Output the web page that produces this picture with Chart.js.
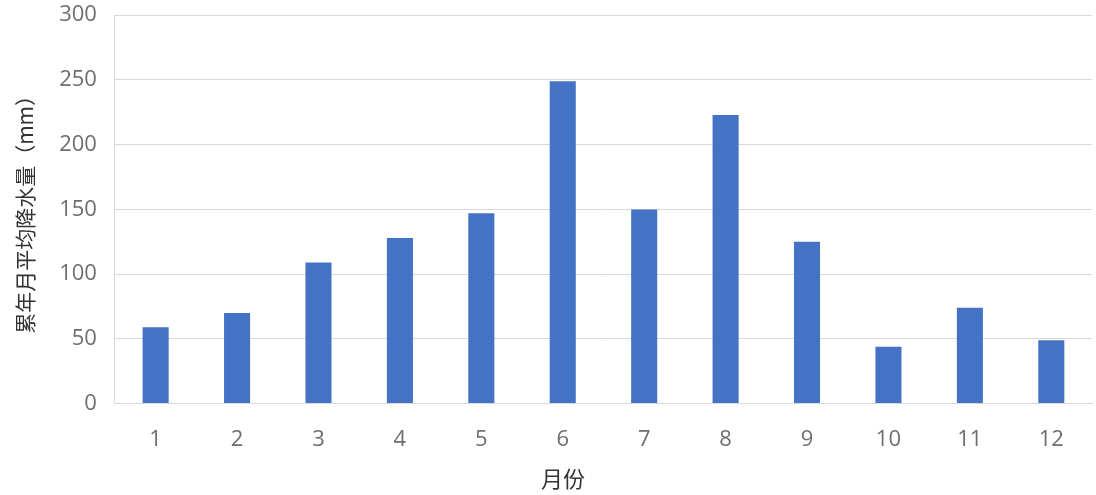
<!DOCTYPE html>
<html>
<head>
<meta charset="utf-8">
<script src="https://cdn.jsdelivr.net/npm/chart.js@4/dist/chart.umd.min.js"></script>
<style>
  body { margin: 0; background: #fff; }
  #wrap { width: 1096px; height: 495px; overflow: hidden; }
  #grafico { display: block; margin-top: -16px; }
</style>
</head>
<body>
<div id="wrap"><canvas id="grafico" width="1096" height="515"></canvas></div>
<script>
// 月份 / 累年月平均降水量
const meses = ['1', '2', '3', '4', '5', '6', '7', '8', '9', '10', '11', '12'];
const chuva = [59, 70, 109, 128, 147, 249, 150, 223, 125, 44, 74, 49];
const ticks_y = [0, 50, 100, 150, 200, 250, 300];

const titulo_x = '月份';
const titulo_y = '累年月平均降水量（mm）';

const fonte_cjk = '"Noto Sans CJK SC", "Noto Sans", sans-serif';
const fonte_num = '"Open Sans", "Noto Sans", sans-serif';

// desenha o titulo do eixo x um pouco deslocado, como no excel
const tituloX = {
    id: 'tituloX',
    afterDraw(chart) {
        const ctx = chart.ctx;
        ctx.save();
        ctx.font = '22px ' + fonte_cjk;
        ctx.fillStyle = '#333333';
        ctx.textAlign = 'center';
        ctx.textBaseline = 'middle';
        ctx.fillText(titulo_x, chart.width / 2 + 15, chart.height - 20);
        ctx.restore();
    }
};

const ctx = document.getElementById('grafico').getContext('2d');
const myChart = new Chart(ctx, {
    type: 'bar',
    data: {
        labels: meses,
        datasets: [{
            label: titulo_y,
            data: chuva,
            backgroundColor: '#4472C4',
            borderWidth: 0,
            barPercentage: 0.32,
            categoryPercentage: 1
        }]
    },
    options: {
        responsive: false,
        animation: false,
        layout: { padding: { left: 12, right: 4, top: 0, bottom: 23 } },
        plugins: {
            legend: { display: false },
            tooltip: { enabled: false }
        },
        scales: {
            x: {
                grid: { display: false, drawTicks: false },
                border: { display: true, color: '#d9d9d9', width: 1 },
                ticks: {
                    color: '#6e6e6e',
                    padding: 23,
                    font: { family: fonte_num, size: 22 }
                }
            },
            y: {
                min: 0,
                max: 300,
                afterBuildTicks(axis) {
                    axis.ticks = ticks_y.map(v => ({ value: v }));
                },
                grid: { color: '#d9d9d9', drawTicks: false },
                border: { display: true, color: '#d9d9d9' },
                ticks: {
                    color: '#6e6e6e',
                    padding: 18,
                    font: { family: fonte_num, size: 22 }
                },
                title: {
                    display: true,
                    text: titulo_y,
                    color: '#333333',
                    padding: { top: 0, bottom: 4 },
                    font: { family: fonte_cjk, size: 21 }
                }
            }
        }
    },
    plugins: [tituloX]
});
</script>
</body>
</html>
